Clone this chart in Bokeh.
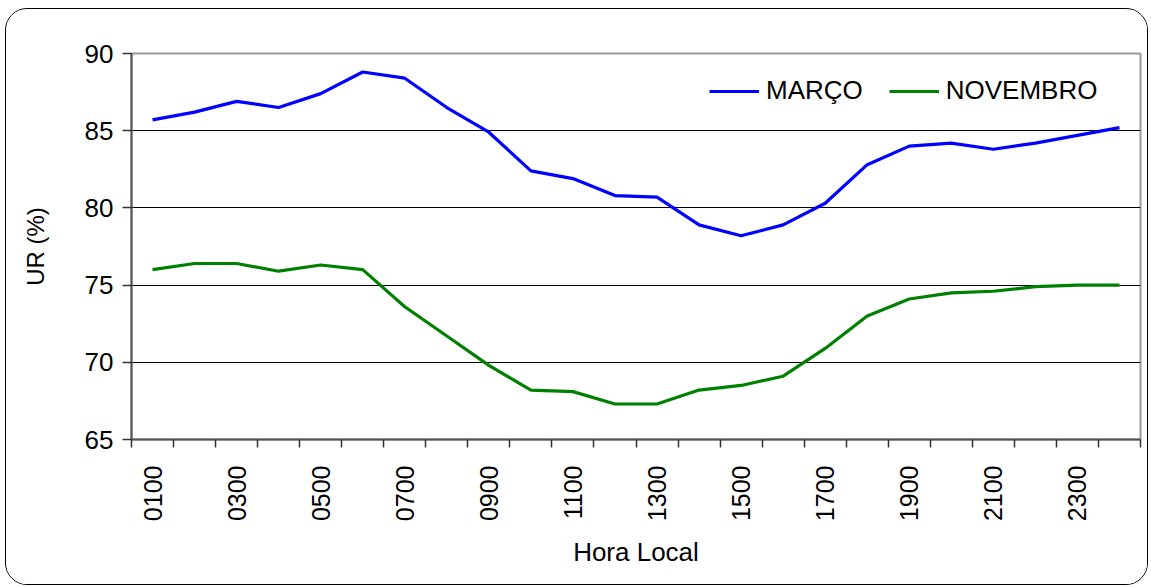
from bokeh.plotting import figure
from bokeh.models import FixedTicker, Legend, LegendItem, ColumnDataSource
from bokeh.embed import file_html
from bokeh.resources import INLINE

hours = ["0100", "0200", "0300", "0400", "0500", "0600", "0700", "0800",
         "0900", "1000", "1100", "1200", "1300", "1400", "1500", "1600",
         "1700", "1800", "1900", "2000", "2100", "2200", "2300", "2400"]
marco = [85.7, 86.2, 86.9, 86.5, 87.4, 88.8, 88.4, 86.5, 84.9, 82.4, 81.9, 80.8,
         80.7, 78.9, 78.2, 78.9, 80.3, 82.8, 84.0, 84.2, 83.8, 84.2, 84.7, 85.2]
novembro = [76.0, 76.4, 76.4, 75.9, 76.3, 76.0, 73.6, 71.7, 69.8, 68.2, 68.1, 67.3,
            67.3, 68.2, 68.5, 69.1, 70.9, 73.0, 74.1, 74.5, 74.6, 74.9, 75.0, 75.0]
y_ticks = [65, 70, 75, 80, 85, 90]

FONT = "Liberation Sans"

xpos = [i + 0.5 for i in range(len(hours))]
src = ColumnDataSource(dict(x=xpos, hour=hours, marco=marco, novembro=novembro))

p = figure(width=1143, height=577, output_backend="svg", toolbar_location=None,
           x_range=(0, len(hours)), y_range=(65, 90),
           min_border_left=125, min_border_right=9, min_border_top=44, min_border_bottom=147,
           background_fill_color="white", border_fill_color="white",
           styles={"border": "1px solid black", "border-radius": "22px", "overflow": "hidden",
                   "margin-left": "5px", "margin-top": "8px"})

p.outline_line_color = "#999999"
p.outline_line_width = 2

r1 = p.line("x", "marco", source=src, line_color="#0000FF", line_width=3.2)
r2 = p.line("x", "novembro", source=src, line_color="#008000", line_width=3.2)

# X axis
label_idx = list(range(0, len(hours), 2))
xt = FixedTicker(ticks=[xpos[i] for i in label_idx], minor_ticks=list(range(len(hours) + 1)))
p.xaxis.ticker = xt
p.xaxis.major_label_overrides = {xpos[i]: hours[i] for i in label_idx}
p.xaxis.major_label_orientation = 1.5708
p.xaxis.major_tick_out = 0
p.xaxis.major_tick_in = 0
p.xaxis.minor_tick_out = 8
p.xaxis.minor_tick_in = 0
p.xaxis.minor_tick_line_color = "#333333"
p.xaxis.minor_tick_line_width = 1.5
p.xaxis.axis_line_color = "#555555"
p.xaxis.axis_line_width = 2
p.xaxis.major_label_standoff = 18
p.xaxis.major_label_text_font = FONT
p.xaxis.major_label_text_font_size = "25px"
p.xaxis.major_label_text_color = "black"
p.xaxis.axis_label = "Hora Local"
p.xaxis.axis_label_text_font = FONT
p.xaxis.axis_label_text_font_size = "26px"
p.xaxis.axis_label_text_font_style = "normal"
p.xaxis.axis_label_text_color = "black"
p.xaxis.axis_label_standoff = 13

# Y axis
p.yaxis.ticker = FixedTicker(ticks=y_ticks)
p.yaxis.minor_tick_line_color = None
p.yaxis.major_tick_out = 9
p.yaxis.major_tick_in = 0
p.yaxis.major_tick_line_color = "#333333"
p.yaxis.major_tick_line_width = 1.5
p.yaxis.axis_line_color = "#555555"
p.yaxis.axis_line_width = 2
p.yaxis.major_label_standoff = 9
p.yaxis.major_label_text_font = FONT
p.yaxis.major_label_text_font_size = "26px"
p.yaxis.major_label_text_color = "black"
p.yaxis.axis_label = "UR (%)"
p.yaxis.axis_label_text_font = FONT
p.yaxis.axis_label_text_font_size = "24px"
p.yaxis.axis_label_text_font_style = "normal"
p.yaxis.axis_label_text_color = "black"
p.yaxis.axis_label_standoff = 33

p.xgrid.visible = False
p.ygrid.ticker = FixedTicker(ticks=y_ticks[1:-1])
p.ygrid.grid_line_color = "black"
p.ygrid.grid_line_width = 1

legend = Legend(items=[LegendItem(label="MARÇO", renderers=[r1]),
                       LegendItem(label="NOVEMBRO", renderers=[r2])],
                orientation="horizontal", location=(578, 333),
                border_line_alpha=0, background_fill_alpha=0,
                label_text_font=FONT, label_text_font_size="26px", label_text_color="black",
                glyph_width=50, label_standoff=7, spacing=26, padding=0, margin=0)
p.add_layout(legend)

open("out.html", "w").write(file_html(p, INLINE))
